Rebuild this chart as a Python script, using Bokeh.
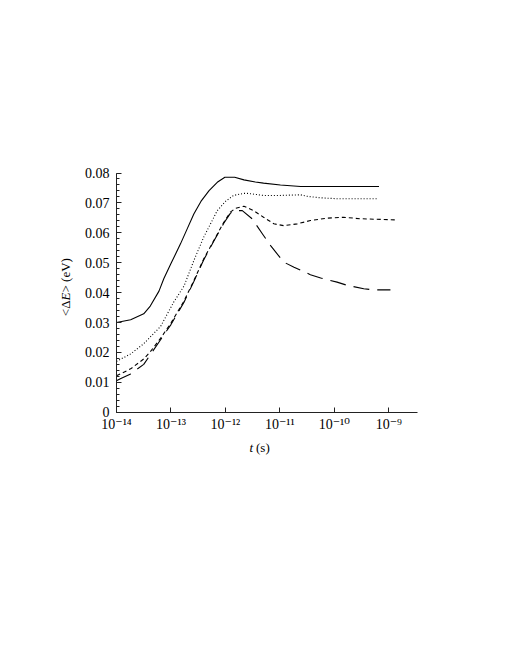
import numpy as np
from bokeh.plotting import figure
from bokeh.models import (FixedTicker, CustomJSTickFormatter, Label, Range1d)
from bokeh.embed import file_html
from bokeh.resources import INLINE

# ---- data (log10 of time in s, mean energy change in eV) ----
solid_log_t = [-14.00, -13.74, -13.50, -13.38, -13.22, -13.13, -13.00, -12.825, -12.70,
               -12.58, -12.45, -12.30, -12.15, -12.01, -11.83, -11.66, -11.45, -11.30,
               -10.99, -10.62, -9.18]
solid_dE = [0.0300, 0.0309, 0.0329, 0.0355, 0.0405, 0.0447, 0.0497, 0.0563, 0.0614,
            0.0663, 0.0705, 0.0741, 0.0769, 0.0786, 0.0786, 0.0777, 0.0770, 0.0766,
            0.0760, 0.0755, 0.0755]

dotted_log_t = [-14.00, -13.74, -13.50, -13.19, -12.95, -12.76, -12.58, -12.40, -12.15,
                -12.00, -11.85, -11.66, -11.60, -11.30, -10.99, -10.62, -10.50, -10.25,
                -9.95, -9.21]
dotted_dE = [0.0170, 0.0195, 0.0229, 0.0287, 0.0368, 0.0422, 0.0507, 0.0585, 0.0674,
             0.0705, 0.0725, 0.0732, 0.0732, 0.0725, 0.0725, 0.0727, 0.0722, 0.0717,
             0.0714, 0.0714]

short_log_t = [-14.00, -13.93, -13.74, -13.50, -13.38, -13.20, -13.00, -12.76, -12.58,
               -12.40, -12.22, -12.03, -11.91, -11.815, -11.66, -11.48, -11.30, -11.11,
               -10.93, -10.68, -10.44, -10.13, -9.83, -9.52, -8.85]
short_dE = [0.0122, 0.0128, 0.0145, 0.0178, 0.0202, 0.0245, 0.0298, 0.0372, 0.0440,
            0.0512, 0.0572, 0.0635, 0.0669, 0.0682, 0.0689, 0.0674, 0.0652, 0.0630,
            0.0624, 0.0630, 0.0641, 0.0649, 0.0652, 0.0647, 0.0643]

long_log_t = [-14.00, -13.93, -13.74, -13.50, -13.38, -13.20, -13.00, -12.76, -12.58,
              -12.40, -12.22, -12.03, -11.91, -11.85, -11.69, -11.51, -11.30, -11.17,
              -10.93, -10.74, -10.44, -10.25, -9.95, -9.76, -9.46, -9.28, -8.97]
long_dE = [0.0105, 0.0112, 0.0128, 0.0160, 0.0192, 0.0240, 0.0293, 0.0368, 0.0437,
           0.0509, 0.0570, 0.0632, 0.0665, 0.0674, 0.0674, 0.0647, 0.0591, 0.0557,
           0.0502, 0.0485, 0.0460, 0.0449, 0.0435, 0.0424, 0.0413, 0.0409, 0.0409]

x_tick_values = [1e-14, 1e-13, 1e-12, 1e-11, 1e-10, 1e-9]
x_tick_labels = ["10\u207b\u00b9\u2074", "10\u207b\u00b9\u00b3", "10\u207b\u00b9\u00b2",
                 "10\u207b\u00b9\u00b9", "10\u207b\u00b9\u2070", "10\u207b\u2079"]
y_tick_values = [0, 0.01, 0.02, 0.03, 0.04, 0.05, 0.06, 0.07, 0.08]
y_tick_labels = ["0", "0.01", "0.02", "0.03", "0.04", "0.05", "0.06", "0.07", "0.08"]
y_minor_values = [round(0.002 * i, 3) for i in range(41)]

FONT = "Liberation Serif"

# axes extents (the drawn axes span exactly these)
x_axis_lo, x_axis_hi = 1e-14, 10 ** -8.473
y_axis_lo, y_axis_hi = 0.0, 0.08

# layout geometry in pixels (frame covers whole canvas so labels can sit beside the axes)
W, H = 438, 478
ax_left, ax_right = 116.0, 417.0
ax_bottom, ax_top = 411.7, 172.5
dec_px = (ax_right - ax_left) / (np.log10(x_axis_hi) - np.log10(x_axis_lo))
ypx = (y_axis_hi - y_axis_lo) / (ax_bottom - ax_top)
x_lo = 10 ** (np.log10(x_axis_lo) - ax_left / dec_px)
x_hi = 10 ** (np.log10(x_axis_lo) + (W - ax_left) / dec_px)
y_lo = y_axis_lo - (H - ax_bottom) * ypx
y_hi = y_axis_hi + ax_top * ypx

p = figure(width=W, height=H, x_axis_type="log",
           x_range=Range1d(x_lo, x_hi), y_range=Range1d(y_lo, y_hi),
           output_backend="svg", toolbar_location=None,
           min_border=0, min_border_left=0, min_border_right=0, min_border_top=0,
           min_border_bottom=0)
p.outline_line_color = None
p.background_fill_color = "white"
p.border_fill_color = "white"
p.xgrid.visible = False
p.ygrid.visible = False

def to_t(lt):
    return [10 ** v for v in lt]

p.line(to_t(solid_log_t), solid_dE, line_color="black", line_width=1.1)
p.line(to_t(dotted_log_t), dotted_dE, line_color="black", line_width=1.1, line_dash="1 2")
p.line(to_t(short_log_t), short_dE, line_color="black", line_width=1.1, line_dash="4 3")
p.line(to_t(long_log_t), long_dE, line_color="black", line_width=1.1, line_dash="16 8")

fmt_js = """
let best = 0, bd = Infinity;
for (let i = 0; i < tv.length; i++) {
  const d = Math.abs(Math.log10(Math.max(tick, 1e-300)) - Math.log10(Math.max(tv[i], 1e-300)));
  if (d < bd) { bd = d; best = i; }
}
return labs[best];
"""
fmt_lin = """
let best = 0, bd = Infinity;
for (let i = 0; i < tv.length; i++) {
  const d = Math.abs(tick - tv[i]);
  if (d < bd) { bd = d; best = i; }
}
return labs[best];
"""

xa = p.xaxis[0]
xa.ticker = FixedTicker(ticks=x_tick_values, minor_ticks=[])
xa.formatter = CustomJSTickFormatter(args=dict(tv=x_tick_values, labs=x_tick_labels), code=fmt_js)
xa.fixed_location = y_axis_lo
xa.bounds = (x_axis_lo, x_axis_hi)
ya = p.yaxis[0]
ya.ticker = FixedTicker(ticks=y_tick_values, minor_ticks=y_minor_values)
ya.formatter = CustomJSTickFormatter(args=dict(tv=y_tick_values, labs=y_tick_labels), code=fmt_lin)
ya.fixed_location = x_axis_lo
ya.bounds = (y_axis_lo, y_axis_hi)

for ax in (xa, ya):
    ax.axis_line_color = "#222222"
    ax.axis_line_width = 1
    ax.major_tick_line_color = "#222222"
    ax.minor_tick_line_color = "#222222"
    ax.major_tick_out = 0
    ax.major_tick_in = 5
    ax.minor_tick_out = 0
    ax.minor_tick_in = 3
    ax.major_label_text_font = FONT + ", DejaVu Serif"
    ax.major_label_text_font_size = "14px"
    ax.major_label_text_color = "black"
xa.major_label_standoff = 5
ya.major_label_standoff = 7

# x axis label: "t (s)"
xl_y = y_axis_lo - 35.6 * ypx
xl_x = 10 ** (np.log10(x_axis_lo) + (252.5 - ax_left) / dec_px)
p.add_layout(Label(x=xl_x, y=xl_y, text="t", text_font=FONT, text_font_style="italic",
                   text_font_size="13px", text_align="right", text_baseline="alphabetic",
                   text_color="black"))
p.add_layout(Label(x=xl_x, y=xl_y, x_offset=3, text="(s)", text_font=FONT,
                   text_font_size="13px", text_align="left", text_baseline="alphabetic",
                   text_color="black"))

# y axis label: "<ΔE> (eV)" rotated
yl_x = 10 ** (np.log10(x_axis_lo) - (ax_left - 65.0) / dec_px)
yl_y = y_axis_lo + (ax_bottom - 300.0) * ypx
p.add_layout(Label(x=yl_x, y=yl_y, text="<\u0394", text_font=FONT, text_font_size="13px",
                   angle=np.pi / 2, text_align="right", text_baseline="alphabetic",
                   text_color="black"))
p.add_layout(Label(x=yl_x, y=yl_y, text="E", text_font=FONT, text_font_style="italic",
                   text_font_size="13px", angle=np.pi / 2, text_align="left",
                   text_baseline="alphabetic", text_color="black"))
p.add_layout(Label(x=yl_x, y=yl_y + 8.0 * ypx, text="> (eV)", text_font=FONT,
                   text_font_size="13px", angle=np.pi / 2, text_align="left",
                   text_baseline="alphabetic", text_color="black"))

open("out.html", "w").write(file_html(p, INLINE))
